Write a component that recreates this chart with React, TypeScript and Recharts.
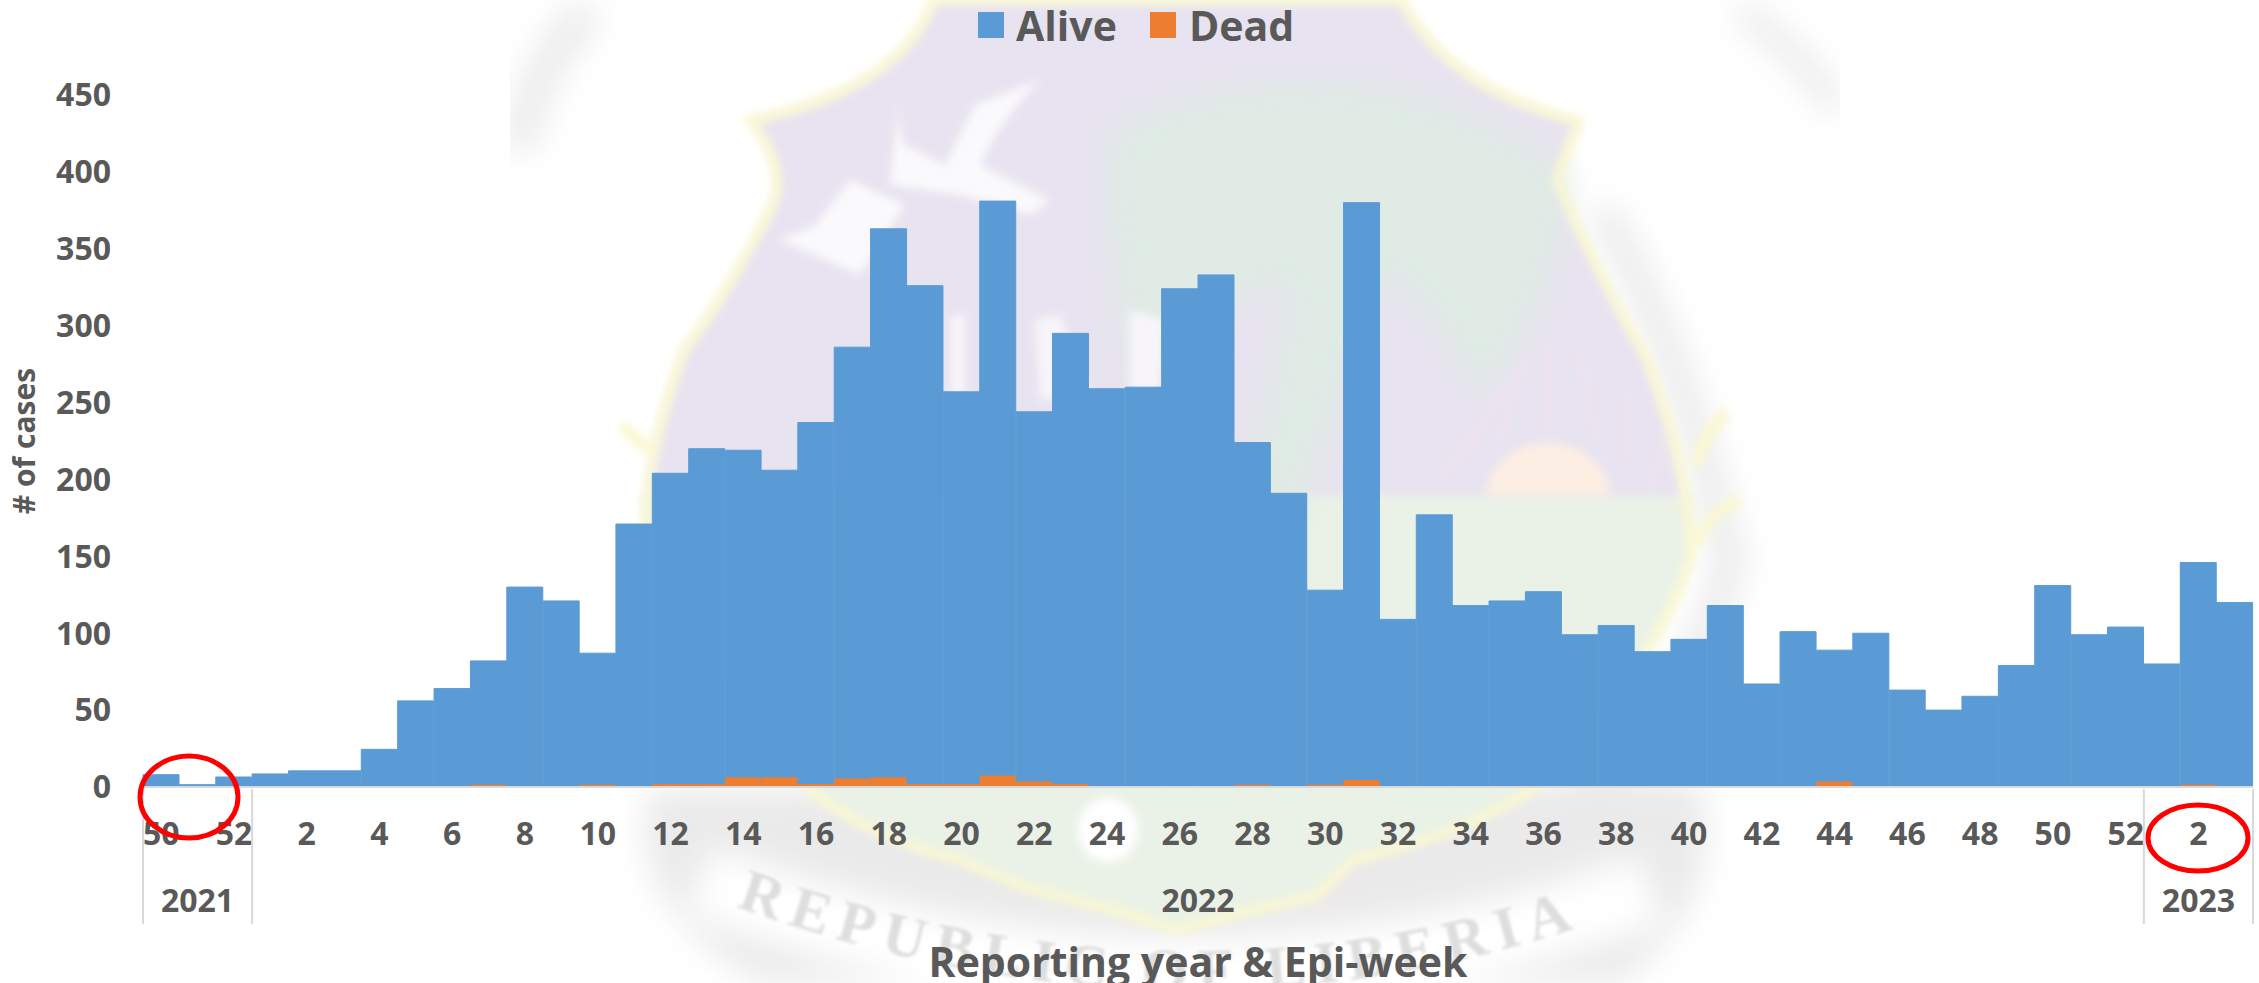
import { BarChart, Bar, XAxis, YAxis, Legend } from 'recharts';

const weeks = [
  50, 51, 52,
  1, 2, 3, 4, 5, 6, 7, 8, 9, 10, 11, 12, 13, 14, 15, 16, 17, 18, 19, 20, 21, 22, 23, 24, 25, 26,
  27, 28, 29, 30, 31, 32, 33, 34, 35, 36, 37, 38, 39, 40, 41, 42, 43, 44, 45, 46, 47, 48, 49, 50, 51, 52,
  1, 2, 3,
];
const alive = [
  8, 1.5, 6.5,
  8.5, 10.5, 10.5, 24.5, 56, 64, 82, 130, 121, 87, 171, 204, 220, 219, 206, 237, 286, 363, 326, 257, 381, 244, 295, 259, 260, 324,
  333, 224, 191, 128, 380, 109, 177, 118, 121, 127, 99, 105, 88, 96, 118, 67, 101, 89, 100, 63, 50, 59, 79, 131, 99, 104,
  80, 146, 120,
];
const dead = [
  0, 0, 0.5,
  0, 0, 0, 0, 0.5, 0, 1.5, 0.5, 0, 1.5, 0.5, 2, 2, 6.3, 6.3, 2, 5.6, 6.3, 2, 2, 7.4, 3.5, 2, 0.5, 0.5, 0,
  0.5, 1.5, 0.5, 1.5, 4.5, 0, 0, 0, 0, 0.5, 0, 0, 0, 0, 0, 0, 0, 3.5, 0, 0, 0, 0, 0, 0.5, 0, 0,
  0, 1.5, 0.5,
];
const yearGroups = [
  { year: '2021', first: 0, count: 3 },
  { year: '2022', first: 3, count: 52 },
  { year: '2023', first: 55, count: 3 },
];
const yTicks = [0, 50, 100, 150, 200, 250, 300, 350, 400, 450];

const chartData = weeks.map((week, i) => ({
  key: i,
  week,
  Alive: alive[i],
  Dead: dead[i],
}));

const WIDTH = 2259;
const HEIGHT = 983;
const LEFT = 143;
const RIGHT = 6;
const TOP = 95;
const BOTTOM = 196;
const BAND = (WIDTH - LEFT - RIGHT) / weeks.length;
const TEXT = '#595959';
const FONT = '"Open Sans", sans-serif';

function WeekTick({ x, y, payload }: any) {
  const i = payload.index;
  const left = x - BAND / 2;
  const group = yearGroups.find(g => g.first === i);
  const isLast = i === weeks.length - 1;
  return (
    <g>
      {i % 2 === 0 && (
        <text x={x} y={y + 56} textAnchor="middle" fontSize={32} fontWeight={700} fill={TEXT} fontFamily={FONT}>
          {weeks[i]}
        </text>
      )}
      {group && (
        <>
          <line x1={left} x2={left} y1={y} y2={y + 135} stroke="#D9D9D9" strokeWidth={2} />
          <text x={left + (group.count * BAND) / 2} y={y + 123} textAnchor="middle" fontSize={32} fontWeight={700} fill={TEXT} fontFamily={FONT}>
            {group.year}
          </text>
        </>
      )}
      {isLast && <line x1={x + BAND / 2} x2={x + BAND / 2} y1={y} y2={y + 135} stroke="#D9D9D9" strokeWidth={2} />}
    </g>
  );
}

function ChartLegend() {
  const items = [
    { label: 'Alive', color: '#5B9BD5', box: 978, text: 1016 },
    { label: 'Dead', color: '#ED7D31', box: 1150, text: 1189 },
  ];
  return (
    <div style={{ position: 'relative', width: WIDTH, height: 50 }}>
      {items.map(item => (
        <div key={item.label}>
          <div style={{ position: 'absolute', left: item.box, top: 12, width: 26, height: 26, background: item.color }} />
          <div
            style={{
              position: 'absolute',
              left: item.text,
              top: 2,
              fontFamily: FONT,
              fontWeight: 700,
              fontSize: 41,
              lineHeight: '46px',
              color: TEXT,
            }}
          >
            {item.label}
          </div>
        </div>
      ))}
    </div>
  );
}

const shieldOutline =
  'M934 0 Q900 90 750 120 Q790 170 770 210 Q730 290 684 350 Q650 440 645 520 Q660 620 780 760 Q840 830 960 860 L1024 887 L1124 913 L1177 930 L1240 913 L1315 897 L1353 860 Q1480 830 1545 780 Q1660 660 1691 557 Q1690 470 1646 357 Q1590 260 1557 179 L1579 121 Q1450 90 1401 0 Z';

// faded national seal behind the chart
function Watermark() {
  return (
    <svg width={WIDTH} height={HEIGHT} style={{ position: 'absolute', left: 0, top: 0 }}>
      <defs>
        <filter id="soft" x="-10%" y="-10%" width="120%" height="120%">
          <feGaussianBlur stdDeviation="4" />
        </filter>
        <filter id="softer" x="-20%" y="-20%" width="140%" height="140%">
          <feGaussianBlur stdDeviation="16" />
        </filter>
        <filter id="textBlur" x="-5%" y="-5%" width="110%" height="110%">
          <feGaussianBlur stdDeviation="1.5" />
        </filter>
        <clipPath id="seal">
          <rect x={510} y={0} width={1330} height={983} />
        </clipPath>
        <clipPath id="sky">
          <rect x={500} y={0} width={1300} height={496} />
        </clipPath>
        <path id="ribbon" d="M680 885 Q1175 1085 1640 905" fill="none" />
      </defs>
      <g clipPath="url(#seal)">
        <g filter="url(#softer)">
          <path d="M650 790 Q620 900 760 983 L1620 983 Q1730 900 1700 780 Z" fill="#EAEAEA" />
          <path d="M590 10 Q530 70 520 150" fill="none" stroke="#EBEBEB" strokeWidth={34} />
          <path d="M1740 10 Q1810 60 1836 110" fill="none" stroke="#E9E9E9" strokeWidth={22} />
          <path d="M1600 210 Q1680 340 1730 560 Q1700 700 1560 810" fill="none" stroke="#EAEAEA" strokeWidth={30} />
          <path d="M700 880 Q1175 1060 1650 890" fill="none" stroke="#FFFFFF" strokeWidth={70} />
        </g>
        <g filter="url(#soft)">
          <path d={shieldOutline} fill="#E8E3F0" />
          <path d="M640 496 L1695 496 L1691 557 Q1660 660 1545 780 Q1480 830 1353 860 L1315 897 L1177 930 L1024 887 L960 860 Q840 830 780 760 Q660 620 645 520 Z" fill="#EAF2E7" />
        </g>
        <path
          d="M1110 130 Q1350 20 1570 170 Q1560 300 1480 400 Q1430 300 1380 270 Q1340 400 1290 540 L1240 540 Q1270 390 1290 280 Q1200 300 1140 390 Q1100 260 1110 130 Z"
          fill="#DFEBE4"
          filter="url(#softer)"
        />
        <g filter="url(#soft)">
          <g clipPath="url(#sky)">
            <ellipse cx={1548} cy={496} rx={62} ry={53} fill="#FCEEE2" />
          </g>
          <path d="M1440 480 L1480 420 M1465 460 L1505 385 M1500 440 L1525 360 M1548 430 L1548 345 M1595 440 L1580 350 M1625 460 L1630 390 M1650 490 L1665 435" stroke="#EEE3EE" strokeWidth={7} fill="none" />
          <path d={shieldOutline} fill="none" stroke="#FAF8D0" strokeWidth={9} />
          <path d="M622 425 Q636 440 650 450 M1695 465 Q1710 425 1727 412 M1695 545 Q1715 505 1740 502" fill="none" stroke="#FAF8D0" strokeWidth={12} />
          <path d="M900 85 Q895 120 905 145 L945 165 L975 105 L1040 80 Q1000 120 980 165 L1050 200 L1030 215 L960 195 L890 185 Z" fill="#FAF9FC" />
          <path d="M850 180 L905 205 L860 275 L780 240 L815 225 Z" fill="#FAF9FC" />
          <path d="M950 315 L965 315 L965 395 L950 395 Z M1035 320 L1060 315 L1090 395 L1040 400 Z M1130 310 L1165 320 L1160 395 L1130 400 Z" fill="#F7F5FA" />
          <ellipse cx={1108} cy={830} rx={30} ry={32} fill="#FFFFFF" />
        </g>
        <text fontFamily='"Liberation Serif", serif' fontWeight={700} fontSize={60} fill="#DEDEDE" letterSpacing={10} filter="url(#textBlur)">
          <textPath href="#ribbon" startOffset="50%" textAnchor="middle">REPUBLIC OF LIBERIA</textPath>
        </text>
      </g>
    </svg>
  );
}

export default function App() {
  return (
    <div style={{ position: 'relative', width: WIDTH, height: HEIGHT, overflow: 'hidden', background: '#fff' }}>
      <style>{'body{margin:0}'}</style>
      <Watermark />
      <div style={{ position: 'absolute', left: 0, top: 0 }}>
        <BarChart
          width={WIDTH}
          height={HEIGHT}
          data={chartData}
          margin={{ top: TOP, right: RIGHT, bottom: 0, left: 0 }}
          barCategoryGap={0}
        >
          <Legend content={<ChartLegend />} verticalAlign="middle" wrapperStyle={{ top: 0, left: 0, width: WIDTH }} />
          <XAxis
            xAxisId="alive"
            dataKey="key"
            interval={0}
            height={BOTTOM}
            tick={<WeekTick />}
            tickLine={false}
            tickSize={0}
            stroke="#D9D9D9"
            strokeWidth={2}
            label={{
              value: 'Reporting year & Epi-week',
              position: 'insideBottom',
              offset: 6,
              fontSize: 41,
              fontWeight: 700,
              fill: TEXT,
              fontFamily: FONT,
            }}
          />
          <XAxis xAxisId="dead" dataKey="key" hide />
          <YAxis
            width={LEFT}
            domain={[0, 450]}
            ticks={yTicks}
            interval={0}
            axisLine={false}
            tickLine={false}
            tickSize={0}
            tickMargin={32}
            tick={{ fontSize: 32, fontWeight: 700, fill: TEXT, fontFamily: FONT }}
            label={{
              value: '# of cases',
              angle: -90,
              position: 'insideLeft',
              offset: 0,
              dx: 24,
              textAnchor: 'middle',
              fontSize: 30,
              fontWeight: 700,
              fill: TEXT,
              fontFamily: FONT,
            }}
          />
          <Bar xAxisId="alive" dataKey="Alive" fill="#5B9BD5" stroke="#5B9BD5" strokeWidth={1} isAnimationActive={false} />
          <Bar xAxisId="dead" dataKey="Dead" fill="#ED7D31" isAnimationActive={false} />
        </BarChart>
      </div>
      <svg width={WIDTH} height={HEIGHT} style={{ position: 'absolute', left: 0, top: 0, pointerEvents: 'none' }}>
        <ellipse cx={189} cy={797} rx={49} ry={41} fill="none" stroke="#FF0000" strokeWidth={5} />
        <ellipse cx={2198} cy={838} rx={50} ry={33} fill="none" stroke="#FF0000" strokeWidth={5} />
      </svg>
    </div>
  );
}
